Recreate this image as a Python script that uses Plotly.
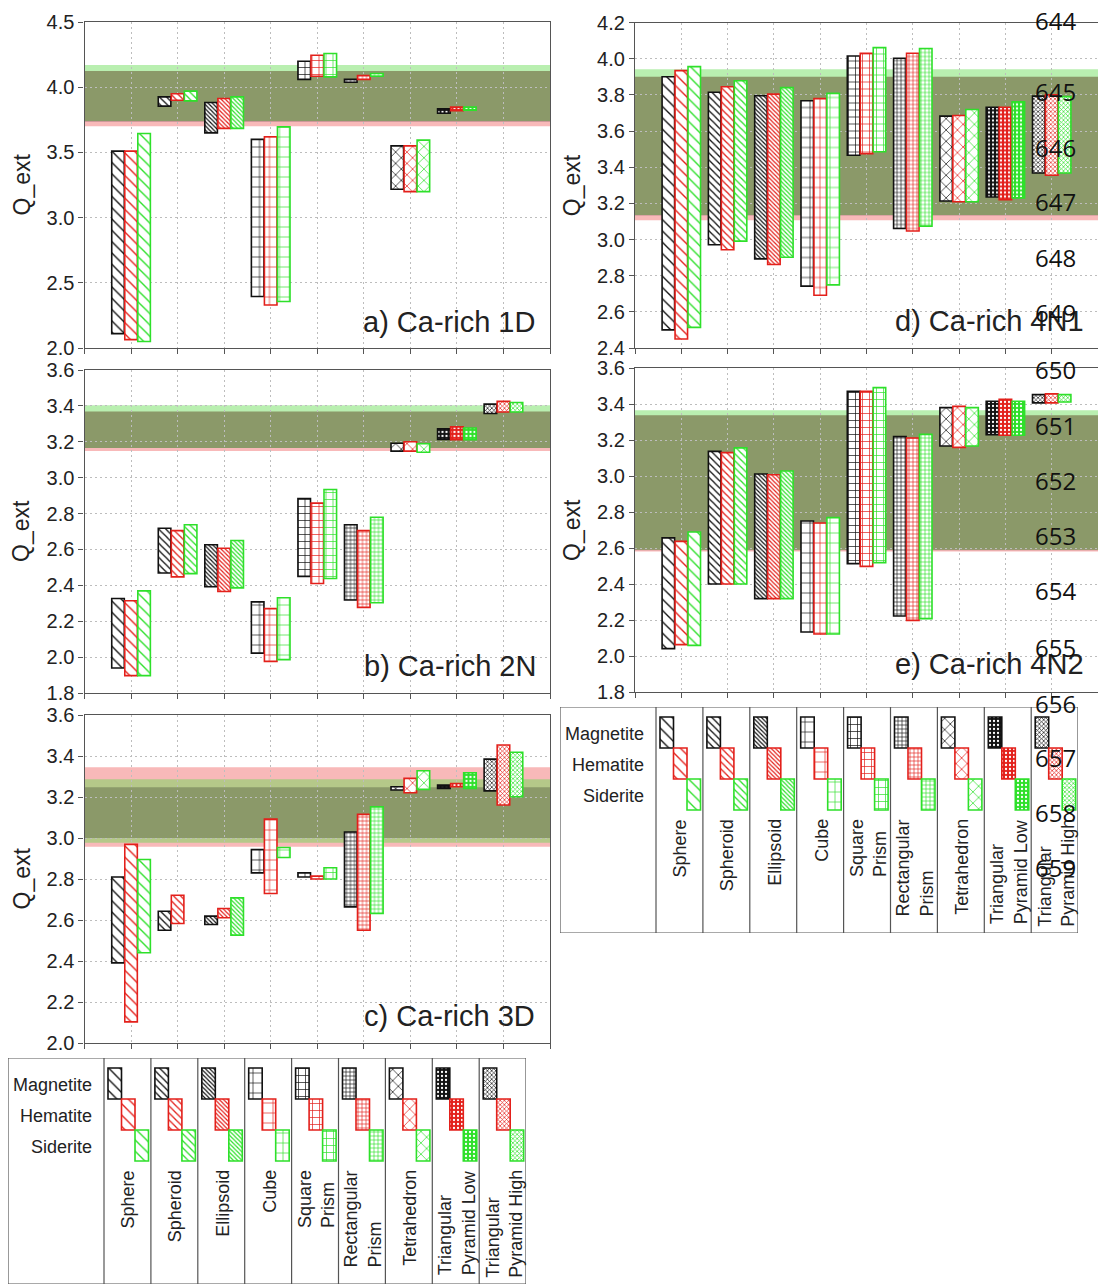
import plotly.graph_objects as go

W, H = 1098, 1284

# ---------------- data ----------------
shape_names = ["Sphere", "Spheroid", "Ellipsoid", "Cube", "Square<br>Prism",
               "Rectangular<br>Prism", "Tetrahedron", "Triangular<br>Pyramid Low",
               "Triangular<br>Pyramid High"]
minerals = ["Magnetite", "Hematite", "Siderite"]
panel_labels = ["a) Ca-rich 1D", "b) Ca-rich 2N", "c) Ca-rich 3D", "d) Ca-rich 4N1", "e) Ca-rich 4N2"]
N = None

# Panel a
a_mag_lo = [2.11, 3.855, 3.65, 2.395, 4.06, 4.038, 3.217, 3.80, N]
a_mag_hi = [3.51, 3.926, 3.883, 3.60, 4.199, 4.061, 3.55, 3.834, N]
a_hem_lo = [2.064, 3.90, 3.684, 2.33, 4.084, 4.06, 3.199, 3.819, N]
a_hem_hi = [3.51, 3.95, 3.913, 3.62, 4.245, 4.09, 3.55, 3.847, N]
a_sid_lo = [2.05, 3.895, 3.684, 2.357, 4.079, 4.084, 3.199, 3.824, N]
a_sid_hi = [3.645, 3.97, 3.926, 3.696, 4.258, 4.105, 3.594, 3.847, N]
# Panel b
b_mag_lo = [1.939, 2.469, 2.392, 2.022, 2.45, 2.318, 3.148, 3.213, 3.358]
b_mag_hi = [2.327, 2.718, 2.626, 2.308, 2.884, 2.738, 3.192, 3.273, 3.41]
b_hem_lo = [1.897, 2.447, 2.366, 1.976, 2.41, 2.277, 3.148, 3.211, 3.366]
b_hem_hi = [2.314, 2.705, 2.607, 2.27, 2.858, 2.705, 3.20, 3.283, 3.425]
b_sid_lo = [1.897, 2.465, 2.386, 1.986, 2.438, 2.303, 3.142, 3.211, 3.366]
b_sid_hi = [2.369, 2.738, 2.65, 2.331, 2.934, 2.779, 3.189, 3.277, 3.419]
# Panel c
c_mag_lo = [2.391, 2.55, 2.578, 2.83, 2.81, 2.664, 3.234, 3.242, 3.23]
c_mag_hi = [2.81, 2.643, 2.619, 2.944, 2.83, 3.029, 3.25, 3.258, 3.385]
c_hem_lo = [2.103, 2.583, 2.611, 2.729, 2.80, 2.55, 3.221, 3.25, 3.161]
c_hem_hi = [2.969, 2.721, 2.656, 3.092, 2.814, 3.115, 3.291, 3.266, 3.454]
c_sid_lo = [2.44, N, 2.526, 2.905, 2.80, 2.632, 3.237, 3.242, 3.201]
c_sid_hi = [2.895, N, 2.708, 2.954, 2.855, 3.152, 3.328, 3.318, 3.418]
# Panel d
d_mag_lo = [2.50, 2.971, 2.893, 2.742, 3.466, 3.061, 3.213, 3.235, 3.368]
d_mag_hi = [3.90, 3.814, 3.795, 3.767, 4.015, 4.002, 3.682, 3.731, 3.793]
d_hem_lo = [2.45, 2.943, 2.862, 2.692, 3.475, 3.047, 3.209, 3.22, 3.355]
d_hem_hi = [3.934, 3.845, 3.804, 3.779, 4.03, 4.03, 3.686, 3.731, 3.80]
d_sid_lo = [2.514, 2.991, 2.902, 2.749, 3.485, 3.074, 3.209, 3.23, 3.368]
d_sid_hi = [3.956, 3.878, 3.84, 3.808, 4.061, 4.056, 3.719, 3.762, 3.79]
# Panel e
e_mag_lo = [2.041, 2.40, 2.319, 2.133, 2.513, 2.222, 3.167, 3.23, 3.406]
e_mag_hi = [2.656, 3.137, 3.011, 2.75, 3.47, 3.219, 3.38, 3.415, 3.452]
e_hem_lo = [2.063, 2.40, 2.319, 2.122, 2.498, 2.198, 3.159, 3.226, 3.406]
e_hem_hi = [2.637, 3.13, 3.007, 2.739, 3.47, 3.211, 3.387, 3.426, 3.456]
e_sid_lo = [2.059, 2.40, 2.319, 2.122, 2.519, 2.207, 3.167, 3.226, 3.411]
e_sid_hi = [2.689, 3.156, 3.028, 2.769, 3.491, 3.231, 3.38, 3.415, 3.452]

# observed ranges (bands): [low, high] per mineral
a_bands = {"Magnetite": [3.735, 4.125], "Hematite": [3.70, 4.125], "Siderite": [3.74, 4.17]}
b_bands = {"Magnetite": [3.165, 3.369], "Hematite": [3.148, 3.369], "Siderite": [3.166, 3.403]}
c_bands = {"Magnetite": [3.0, 3.247], "Hematite": [2.957, 3.345], "Siderite": [2.977, 3.286]}
d_bands = {"Magnetite": [3.133, 3.90], "Hematite": [3.106, 3.90], "Siderite": [3.135, 3.941]}
e_bands = {"Magnetite": [2.587, 3.337], "Hematite": [2.58, 3.337], "Siderite": [2.59, 3.365]}

# y axis settings
y_ranges = [[2.0, 4.5], [1.8, 3.6], [2.0, 3.6], [2.4, 4.2], [1.8, 3.6]]
y_dticks = [0.5, 0.2, 0.2, 0.2, 0.2]

line_numbers = list(range(644, 660))
line_number_y = [20, 91, 147, 202, 258, 312, 369, 425, 480, 535, 590, 647, 703, 757, 812, 867]

# ---------------- styles ----------------
mcolors = {"Magnetite": "#111111", "Hematite": "#e3201b", "Siderite": "#2ee02a"}
band_fill = {"Hematite": "rgba(240,100,100,0.45)", "Siderite": "rgba(100,220,80,0.45)",
             "Magnetite": "rgba(0,0,0,0.23)"}
pat_shape = ["\\", "\\", "\\", "+", "+", "+", "x", ".", "x"]
pat_size = [8, 5, 3, 10, 7, 4, 8, 4, 3]
pat_solid = [0.17, 0.26, 0.4, 0.13, 0.19, 0.3, 0.17, 0.25, 0.4]
pat_invert = [False] * 7 + [True, False]
offsets = [-0.28, 0.0, 0.28]
BAR_W = 0.27
FONT = "Liberation Sans, Arial, sans-serif"

panels = [
    (a_mag_lo, a_mag_hi, a_hem_lo, a_hem_hi, a_sid_lo, a_sid_hi, a_bands),
    (b_mag_lo, b_mag_hi, b_hem_lo, b_hem_hi, b_sid_lo, b_sid_hi, b_bands),
    (c_mag_lo, c_mag_hi, c_hem_lo, c_hem_hi, c_sid_lo, c_sid_hi, c_bands),
    (d_mag_lo, d_mag_hi, d_hem_lo, d_hem_hi, d_sid_lo, d_sid_hi, d_bands),
    (e_mag_lo, e_mag_hi, e_hem_lo, e_hem_hi, e_sid_lo, e_sid_hi, e_bands),
]

# pixel geometry of panels: (left, right, top, bottom)
geo = [(84.5, 550, 22, 348), (84.5, 550, 370, 693), (84.5, 550, 715, 1043),
       (635, 1098, 22.5, 348), (635, 1098, 368, 692)]
label_pos = [(537, 322), (538, 666), (537, 1016), (1086, 321), (1086, 664)]

# legend geometry (pixel): left, top
LEG_W, LEG_H = 518, 226
legends = [(8, 1058), (560, 707)]
FIRST_COL = 96
COL_W = 46.9


def fx(px):
    return px / W


def fy(py):
    return 1 - py / H


def pattern_for(idx, color):
    fg, bg = [], []
    for i in idx:
        if pat_invert[i]:
            fg.append("white"); bg.append(color)
        else:
            fg.append(color); bg.append("white")
    return dict(shape=[pat_shape[i] for i in idx], size=[pat_size[i] for i in idx],
                solidity=[pat_solid[i] for i in idx], fgcolor=fg, bgcolor=bg,
                fillmode="replace")


fig = go.Figure()
shapes = []
annotations = []
GRID = dict(showgrid=True, griddash="2px,3px", gridcolor="#bdbdbd", gridwidth=1)

for p, (mlo, mhi, hlo, hhi, slo, shi, bands) in enumerate(panels):
    n = p + 1
    xa = "x" if n == 1 else f"x{n}"
    ya = "y" if n == 1 else f"y{n}"
    series = [(mlo, mhi), (hlo, hhi), (slo, shi)]
    for m, (lo, hi) in enumerate(series):
        idx = [i for i in range(len(lo)) if lo[i] is not None]
        color = mcolors[minerals[m]]
        fig.add_trace(go.Bar(
            x=[i + 1 + offsets[m] for i in idx],
            base=[lo[i] for i in idx],
            y=[hi[i] - lo[i] for i in idx],
            width=BAR_W, xaxis=xa, yaxis=ya, showlegend=False,
            marker=dict(color="white", line=dict(color=color, width=1.6),
                        pattern=pattern_for(idx, color)),
            hoverinfo="skip"))
    for mn in ["Hematite", "Siderite", "Magnetite"]:
        lo, hi = bands[mn]
        shapes.append(dict(type="rect", xref=f"{xa} domain", yref=ya, x0=0, x1=1,
                           y0=lo, y1=hi, fillcolor=band_fill[mn], line=dict(width=0),
                           layer="below"))
    l, r, t, b = geo[p]
    ax = dict(domain=[fx(l), min(1.0, fx(r))], range=[0, 10], tick0=0, dtick=1,
              showticklabels=False, ticks="outside", ticklen=5, tickcolor="#555",
              showline=True, linecolor="#555", linewidth=1.3, mirror=True,
              anchor=ya, zeroline=False, fixedrange=True, **GRID)
    ay = dict(domain=[fy(b), fy(t)], range=y_ranges[p], tick0=y_ranges[p][0],
              dtick=y_dticks[p], tickformat=".1f", ticks="outside", ticklen=5,
              tickcolor="#555", showline=True, linecolor="#555", linewidth=1.3,
              mirror=(p < 3), anchor=xa, zeroline=False,
              tickfont=dict(family=FONT, size=20, color="#222"), fixedrange=True, **GRID)
    key = "" if n == 1 else str(n)
    fig.layout["xaxis" + key] = ax
    fig.layout["yaxis" + key] = ay
    annotations.append(dict(text="Q_ext", xref="paper", yref="paper",
                            x=fx(l - 63), y=fy((t + b) / 2), textangle=-90,
                            showarrow=False, xanchor="center", yanchor="middle",
                            font=dict(family=FONT, size=23, color="#222")))
    lx, ly = label_pos[p]
    annotations.append(dict(text=panel_labels[p], xref="paper", yref="paper",
                            x=fx(lx), y=fy(ly), showarrow=False, xanchor="right",
                            yanchor="middle", font=dict(family=FONT, size=29, color="#222")))

# ---------------- legends ----------------
for k, (lx0, ly0) in enumerate(legends):
    n = 6 + k
    xa, ya = f"x{n}", f"y{n}"
    fig.layout[f"xaxis{n}"] = dict(domain=[fx(lx0), fx(lx0 + LEG_W)], range=[0, LEG_W],
                                   visible=False, anchor=ya, fixedrange=True)
    fig.layout[f"yaxis{n}"] = dict(domain=[max(0.0, fy(ly0 + LEG_H)), fy(ly0)],
                                   range=[LEG_H, 0], visible=False, anchor=xa, fixedrange=True)
    idx = list(range(len(shape_names)))
    for m, mn in enumerate(minerals):
        color = mcolors[mn]
        fig.add_trace(go.Bar(
            x=[FIRST_COL + i * COL_W + 4 + 6.75 + m * 13.5 for i in idx],
            base=[10 + m * 31] * len(idx), y=[31] * len(idx), width=13.5,
            xaxis=xa, yaxis=ya, showlegend=False, hoverinfo="skip",
            marker=dict(color="white", line=dict(color=color, width=1.6),
                        pattern=pattern_for(idx, color))))
        annotations.append(dict(text=mn, xref=xa, yref=ya, x=86, y=27 + m * 31,
                                showarrow=False, xanchor="right", yanchor="middle",
                                font=dict(family=FONT, size=18, color="#222")))
    shapes.append(dict(type="rect", xref=xa, yref=ya, x0=0, x1=LEG_W, y0=0, y1=LEG_H,
                       line=dict(color="#555", width=1.2)))
    for i in range(len(shape_names)):
        cx = FIRST_COL + i * COL_W
        shapes.append(dict(type="line", xref=xa, yref=ya, x0=cx, x1=cx, y0=0, y1=LEG_H,
                           line=dict(color="#555", width=1.2)))
        annotations.append(dict(text=shape_names[i], xref=xa, yref=ya,
                                x=cx + COL_W / 2 + 1, y=110, textangle=-90, align="left",
                                showarrow=False, xanchor="center", yanchor="top",
                                font=dict(family=FONT, size=18, color="#222")))

# line numbers overlay
for num, yy in zip(line_numbers, line_number_y):
    annotations.append(dict(text=str(num), xref="paper", yref="paper", x=fx(1055),
                            y=fy(yy), showarrow=False, xanchor="center", yanchor="middle",
                            font=dict(family="Open Sans, sans-serif", size=24, color="#111")))

fig.update_layout(width=W, height=H, margin=dict(l=0, r=0, t=0, b=0), autosize=False,
                  template="none", paper_bgcolor="white", plot_bgcolor="rgba(0,0,0,0)",
                  barmode="overlay", shapes=shapes, annotations=annotations,
                  showlegend=False, font=dict(family=FONT))

fig.write_html("out.html", config={"displayModeBar": False},
               post_script="document.body.style.margin='0';document.body.style.overflow='hidden';")
